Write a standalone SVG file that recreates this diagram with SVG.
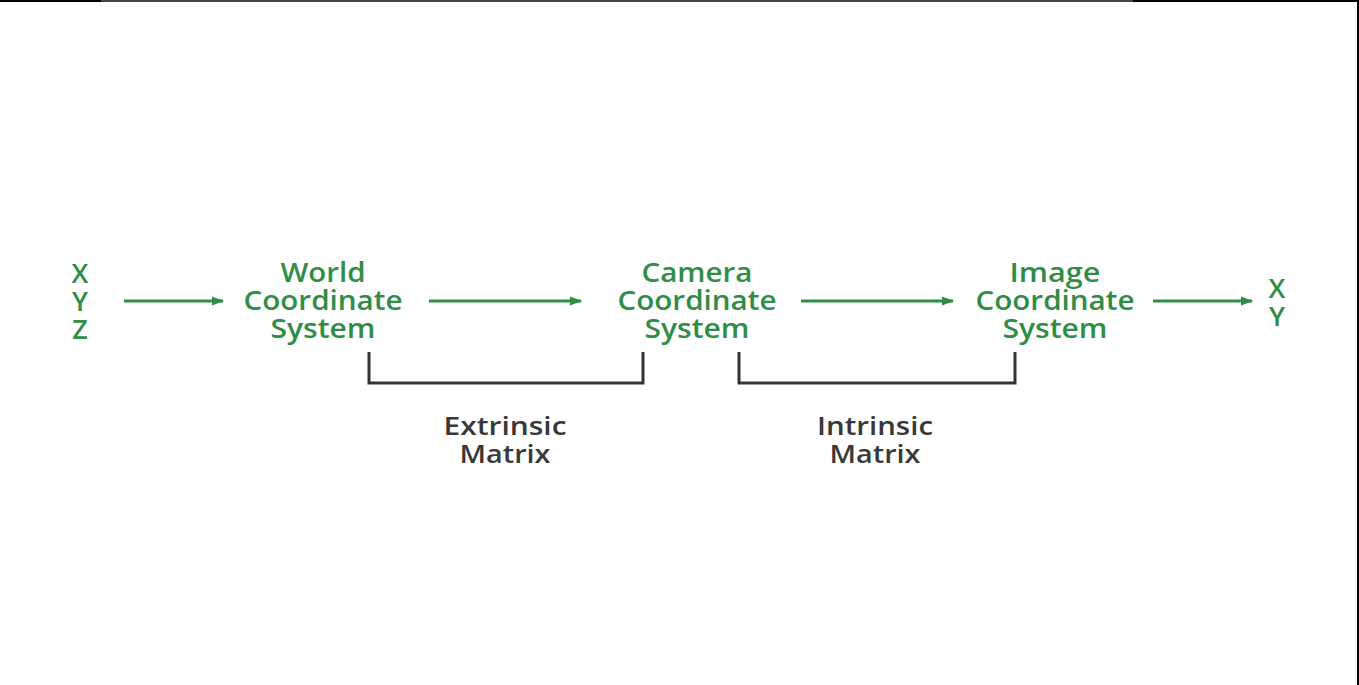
<svg xmlns="http://www.w3.org/2000/svg" width="1359" height="685" viewBox="0 0 1359 685">
  <style>
    .g { fill: #2f8d46; font-family: "Open Sans", "Liberation Sans", sans-serif; font-weight: 600; font-size: 27px; text-anchor: middle; }
    .d { fill: #383838; font-family: "Open Sans", "Liberation Sans", sans-serif; font-weight: 600; font-size: 26px; text-anchor: middle; }
    .arrow { stroke: #2f8d46; stroke-width: 3; fill: none; marker-end: url(#ah); }
    .bracket { stroke: #333333; stroke-width: 3; fill: none; }
  </style>
  <defs>
    <marker id="ah" viewBox="0 0 12 12" refX="11" refY="6" markerWidth="12" markerHeight="12" markerUnits="userSpaceOnUse" orient="auto">
      <path d="M0,1.5 L12,6 L0,10.5 Z" fill="#2f8d46"/>
    </marker>
  </defs>
  <rect x="0" y="0" width="1359" height="685" fill="#ffffff"/>
  <!-- frame edges -->
  <rect x="0" y="0" width="101" height="2" fill="#000000"/>
  <rect x="101" y="0" width="1032" height="2" fill="#444444"/>
  <rect x="1133" y="0" width="226" height="2" fill="#000000"/>
  <rect x="1357" y="0" width="2" height="685" fill="#000000"/>

  <g id="input-xyz">
    <text class="g" x="80" y="283">X</text>
    <text class="g" x="80" y="311">Y</text>
    <text class="g" x="80" y="339">Z</text>
  </g>
  <g id="world">
    <text class="g" x="323" y="282" textLength="85" lengthAdjust="spacingAndGlyphs">World</text>
    <text class="g" x="323" y="310" textLength="159" lengthAdjust="spacingAndGlyphs">Coordinate</text>
    <text class="g" x="323" y="338" textLength="105" lengthAdjust="spacingAndGlyphs">System</text>
  </g>
  <g id="camera">
    <text class="g" x="697" y="282" textLength="111" lengthAdjust="spacingAndGlyphs">Camera</text>
    <text class="g" x="697" y="310" textLength="159" lengthAdjust="spacingAndGlyphs">Coordinate</text>
    <text class="g" x="697" y="338" textLength="105" lengthAdjust="spacingAndGlyphs">System</text>
  </g>
  <g id="image">
    <text class="g" x="1055" y="282" textLength="91" lengthAdjust="spacingAndGlyphs">Image</text>
    <text class="g" x="1055" y="310" textLength="159" lengthAdjust="spacingAndGlyphs">Coordinate</text>
    <text class="g" x="1055" y="338" textLength="105" lengthAdjust="spacingAndGlyphs">System</text>
  </g>
  <g id="output-xy">
    <text class="g" x="1277" y="298">X</text>
    <text class="g" x="1277" y="326">Y</text>
  </g>
  <g id="extrinsic">
    <text class="d" x="505" y="435" textLength="123" lengthAdjust="spacingAndGlyphs">Extrinsic</text>
    <text class="d" x="505" y="463" textLength="91" lengthAdjust="spacingAndGlyphs">Matrix</text>
  </g>
  <g id="intrinsic">
    <text class="d" x="875" y="435" textLength="116" lengthAdjust="spacingAndGlyphs">Intrinsic</text>
    <text class="d" x="875" y="463" textLength="91" lengthAdjust="spacingAndGlyphs">Matrix</text>
  </g>
  <g id="connectors">
    <line class="arrow" x1="124" y1="301" x2="223" y2="301"/>
    <line class="arrow" x1="429" y1="301" x2="581" y2="301"/>
    <line class="arrow" x1="801" y1="301" x2="953" y2="301"/>
    <line class="arrow" x1="1153" y1="301" x2="1252" y2="301"/>
    <polyline class="bracket" points="369,352 369,383 643,383 643,352"/>
    <polyline class="bracket" points="739,352 739,383 1015,383 1015,352"/>
  </g>
</svg>
